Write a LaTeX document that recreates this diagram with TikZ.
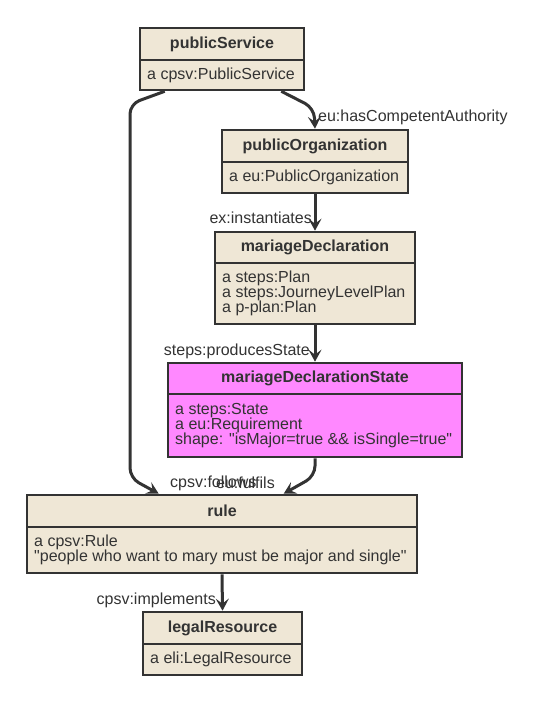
\documentclass[tikz,border=0pt]{standalone}
\usepackage{fontspec}
\setmainfont{Liberation Sans}[Ligatures=TeXOff]
\usetikzlibrary{fit,arrows.meta}
\definecolor{boxfill}{HTML}{EFE7D6}
\definecolor{pinkfill}{HTML}{FF88FF}
\definecolor{ink}{HTML}{333333}
\newcommand\umlbox[9]{%
  \node[umlframe, fill=#7, fit={(#2,#3) (#4,#6)}] (#1) {};
  \draw[umlline] (#2,#5) -- (#4,#5);
  \node[umltitle] (#1-t) at ({(#2+#4)/2},{(#3+#5)/2}) {#8};
  \node[umlbody] (#1-b) at ({#2+7},{(#5+#6)/2}) {#9};
}
\begin{document}
\begin{tikzpicture}[x=1pt,y=-1pt,
  umlframe/.style={draw=ink, line width=2.6pt, inner sep=0pt},
  umlline/.style={draw=ink, line width=2.6pt},
  umltitle/.style={font=\fontsize{16}{15}\selectfont\bfseries, text=ink, inner sep=0pt},
  umlbody/.style={font=\fontsize{16}{15}\selectfont, text=ink, anchor=west, align=left, inner sep=0pt},
  arr/.style={draw=ink, line width=3pt, rounded corners=10pt, -{Stealth[length=12pt,width=13pt,inset=5pt]}},
  elabel/.style={font=\fontsize{16}{15}\selectfont, text=ink, inner sep=0pt}]
\useasboundingbox[fill=white] (0,0) rectangle (540,703);
\umlbox{ps}{140}{28}{304}{60}{90}{boxfill}{publicService}{a cpsv:PublicService}
\umlbox{po}{222}{130}{408}{162}{193}{boxfill}{publicOrganization}{a eu:PublicOrganization}
\umlbox{md}{215}{232}{415}{263}{324}{boxfill}{mariageDeclaration}{a steps:Plan\\a steps:JourneyLevelPlan\\a p-plan:Plan}
\umlbox{mds}{168}{363}{462}{394}{457}{pinkfill}{mariageDeclarationState}{a steps:State\\a eu:Requirement\\shape: "isMajor=true \&\& isSingle=true"}
\umlbox{rule}{27}{495}{417}{527}{573}{boxfill}{rule}{a cpsv:Rule\\"people who want to mary must be major and single"}
\umlbox{lr}{143}{612}{302}{644}{675}{boxfill}{legalResource}{a eli:LegalResource}
% connectors
\coordinate (c1) at (130,104);
\coordinate (c2) at (130,478);
\draw[arr] ([xshift=26pt]ps.south west) -- (c1) -- (c2) -- ([xshift=133pt]rule.north west);
\coordinate (c3) at (314,108);
\draw[arr] ([xshift=-24pt]ps.south east) -- (c3) -- (po.north);
\draw[arr] (po.south) -- (md.north);
\draw[arr] (md.south) -- (mds.north);
\coordinate (c4) at (315,476);
\draw[arr] (mds.south) -- (c4) -- ([xshift=258pt]rule.north west);
\draw[arr] (rule.south) -- (lr.north);
% labels
\node[elabel, anchor=west] (l1) at (318,117) {eu:hasCompetentAuthority};
\node[elabel, anchor=east] (l2) at (312,218) {ex:instantiates};
\node[elabel, anchor=east] (l3) at (310,351) {steps:producesState};
\node[elabel, anchor=west] (l4) at (170,483) {cpsv:follows};
\node[elabel, anchor=east] (l5) at (275,483) {eu:fulfils};
\node[elabel, anchor=east] (l6) at (216,600) {cpsv:implements};
\end{tikzpicture}
\end{document}
